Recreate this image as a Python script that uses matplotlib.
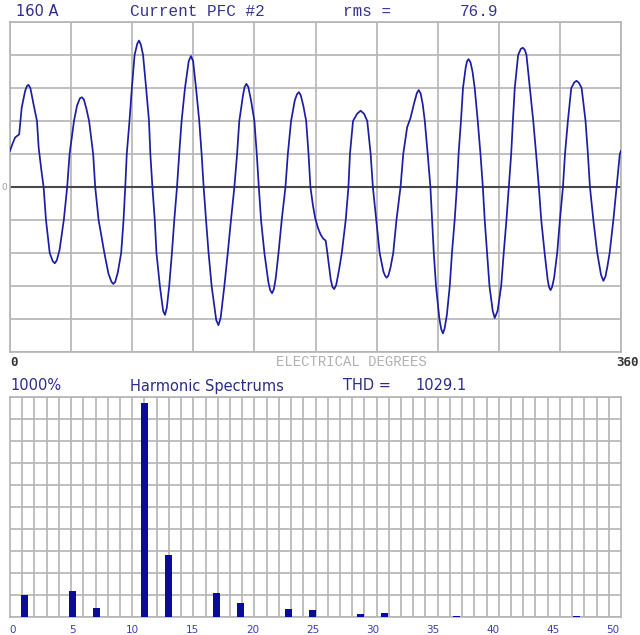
import matplotlib
matplotlib.use("Agg")
import matplotlib.pyplot as plt
import numpy as np

# ---- waveform samples: electrical degrees and current (A) ----
wave_deg = [
    0, 1.5, 3, 5.4, 6.9, 8.9, 10, 10.9, 12, 13.9, 15.9, 16.9, 18.5, 19.8,
    21.2, 23.4, 25.2, 26.4, 27.6, 29.2, 31.7, 33.7, 35.1, 37.7, 39.5, 41.2,
    42.3, 43.5, 45, 46.6, 49, 50.2, 52.2, 55.6, 58, 59.8, 60.9, 62, 63.5,
    65.5, 66.9, 67.9, 68.8, 70.4, 71.8, 73.4, 75, 76, 77.1, 78.4, 80.2,
    81.9, 82.7, 83.9, 85.3, 86.3, 88.3, 90.2, 91.3, 92.4, 93.8, 95.4, 96.8,
    98.4, 99.7, 101.1, 103.1, 105.3, 106.6, 107.9, 109.6, 111.5, 112.9,
    114.1, 115.5, 117, 118.8, 121.5, 122.8, 124.1, 126.3, 128.3, 130.2,
    132.2, 133.8, 135.1, 137.2, 138.2, 139.3, 140.4, 142, 144, 145.4, 146.6,
    147.9, 149.9, 152.2, 153.3, 154.4, 155.5, 156.6, 158.2, 160.1, 162.3,
    163.7, 165.6, 167.8, 169.1, 170.2, 171.3, 172.8, 174.5, 175.9, 177,
    178.5, 179.8, 181.5, 183, 184.5, 186, 187, 189, 190, 191, 192.2, 193.9,
    195.5, 197.8, 199.4, 200.3, 202.1, 204.5, 206.6, 208.6, 210.5, 212.5,
    213.8, 215.8, 217.8, 220, 221, 221.9, 222.9, 224.2, 225.8, 227.7, 230.1,
    231.7, 234, 236, 237.9, 239.7, 240.8, 241.9, 243.2, 244.4, 246.1, 247.7,
    248.7, 249.7, 251, 253, 254.1, 255.1, 256.1, 257.4, 259.1, 260.4, 262,
    263.3, 264.3, 265.7, 266.9, 268.5, 269.3, 270.2, 271.3, 272.5, 273.8,
    275.6, 277.2, 278.6, 279.7, 281.1, 282.5, 284.4, 285.6, 287.3, 289.4,
    290.9, 292.5, 293.9, 295.3, 296.3, 297.4, 299.4, 301, 302.2, 303.3,
    304.3, 306.3, 308.3, 310, 311.6, 313, 315, 316.8, 317.6, 318.5, 319.4,
    320.6, 322.4, 324, 325.8, 327, 328.7, 330.7, 332.5, 333.8, 335.2, 336.8,
    339.1, 340.5, 341.7, 343.7, 346, 348.2, 349.6, 350.8, 352, 353.3, 355.5,
    357.4, 359.3, 360,
]
wave_amp = [
    35, 42, 48, 51, 77, 93, 98, 99, 96, 80, 64, 38, 16, 0,
    -32, -64, -72, -74, -71, -61, -32, 0, 32, 64, 79, 86,
    87, 85, 76, 64, 32, 0, -32, -64, -84, -92, -94, -92, -83,
    -64, -32, 0, 32, 64, 96, 128, 139, 142, 138, 128, 96,
    64, 32, 0, -32, -64, -96, -120, -124, -117, -96, -64, -32,
    0, 32, 64, 96, 122, 127, 122, 96, 64, 32,
    0, -32, -64, -96, -129, -134, -127, -96, -64, -32,
    0, 32, 64, 88, 97, 100, 97, 84, 64, 32, 0,
    -32, -64, -92, -100, -103, -99, -88, -64, -32, 0,
    32, 64, 84, 90, 92, 89, 79, 64, 32, 0,
    -18, -30, -40, -46, -50, -52, -64, -90, -97, -99, -95, -80,
    -64, -32, 0, 32, 64, 71, 74, 71, 64, 32,
    0, -32, -64, -82, -86, -88, -86, -78, -64, -32, 0,
    32, 58, 67, 80, 91, 94, 91, 80, 64, 32, 0,
    -32, -64, -96, -128, -138, -142, -137, -124, -96, -64, -32,
    0, 32, 64, 96, 116, 122, 124, 121, 112, 96,
    64, 32, 0, -32, -64, -96, -120, -127, -120, -96,
    -64, -32, 0, 32, 64, 96, 128, 134, 135, 133,
    128, 96, 64, 32, 0, -32, -64, -90, -97, -100, -97,
    -88, -64, -32, 0, 32, 64, 96, 101.5, 103, 101, 96,
    64, 32, 0, -32, -64, -85, -91, -87, -77, -64, -32,
    0, 32, 35,
]

# ---- harmonic spectrum (% of fundamental) ----
harm_order = [1, 5, 7, 11, 13, 17, 19, 23, 25, 29, 31, 37, 47]
harm_pct = [101, 117, 42, 974, 283, 108, 63, 37, 32, 12, 18, 6, 6]
harm_ticks = [0, 5, 10, 15, 20, 25, 30, 35, 40, 45, 50]

W, H = 640, 635
fig = plt.figure(figsize=(W / 100, H / 100), dpi=100)
fig.patch.set_facecolor("white")


def fx(x):
    return x / W


def fy(y):
    return 1 - y / H


GRID = "#b4b4b4"
TXT = "#2b2b8c"

# ---- waveform panel ----
ax1 = fig.add_axes([fx(10), fy(352), fx(621) - fx(10), fy(22) - fy(352)])
ax1.set_xlim(0, 360)
ax1.set_ylim(-160, 160)
ax1.set_xticks(np.arange(0, 361, 36))
ax1.set_yticks(np.arange(-160, 161, 32))
ax1.grid(True, color=GRID, lw=1.2)
ax1.tick_params(length=0, labelbottom=False, labelleft=False)
for s in ax1.spines.values():
    s.set_color(GRID)
    s.set_linewidth(1.2)
ax1.axhline(0, color="#4a4a4a", lw=1.5, zorder=2)
ax1.plot(wave_deg, wave_amp, color="#1c1ca6", lw=1.25, zorder=3)

# ---- harmonic panel ----
ax2 = fig.add_axes([fx(10), fy(617), fx(621) - fx(10), fy(397) - fy(617)])
ax2.set_xlim(-0.21, 50.69)
ax2.set_ylim(0, 1000)
ax2.set_yticks(np.arange(0, 1001, 100))
ax2.yaxis.grid(True, color=GRID, lw=1.2)
ax2.set_axisbelow(True)
for k in range(1, 50):
    ax2.plot([k / 50, k / 50], [0, 1], transform=ax2.transAxes,
             color=GRID, lw=1.2, zorder=0.5)
ax2.set_xticks(harm_ticks)
ax2.set_xticklabels([str(t) for t in harm_ticks])
ax2.tick_params(axis="x", length=0, pad=6, labelsize=7.5, labelcolor="#3c3cb4")
ax2.tick_params(axis="y", length=0, labelleft=False)
for s in ax2.spines.values():
    s.set_color(GRID)
    s.set_linewidth(1.2)
ax2.bar(harm_order, harm_pct, width=0.54, color="#0a0a9c", zorder=3)

# ---- captions ----
fig.text(fx(16), fy(12), "160 A", fontsize=10.5, color=TXT, va="center")
mono = dict(family="Liberation Mono", fontsize=11.5, color="#35358f", va="center")
fig.text(fx(130), fy(12), "Current PFC #2", **mono)
fig.text(fx(343), fy(12), "rms =", **mono)
fig.text(fx(460), fy(12), "76.9", **mono)

fig.text(fx(4.5), fy(187), "0", fontsize=6.5, color="#a0a0a0", ha="center", va="center")
fig.text(fx(10), fy(362), "0", family="DejaVu Sans Mono", fontsize=9,
         fontweight="bold", color="#333333", va="center")
fig.text(fx(639), fy(362), "360", family="DejaVu Sans Mono", fontsize=9,
         fontweight="bold", color="#333333", va="center", ha="right")
fig.text(fx(276), fy(362), "ELECTRICAL DEGREES", family="Liberation Mono",
         fontsize=10, color="#b0b0b0", va="center")

sans = dict(fontsize=10.5, color=TXT, va="center")
fig.text(fx(10), fy(386), "1000%", **sans)
fig.text(fx(130), fy(386), "Harmonic Spectrums", **sans)
fig.text(fx(343), fy(386), "THD =", **sans)
fig.text(fx(415), fy(386), "1029.1", **sans)

fig.savefig("out.png", dpi=100, facecolor="white")
